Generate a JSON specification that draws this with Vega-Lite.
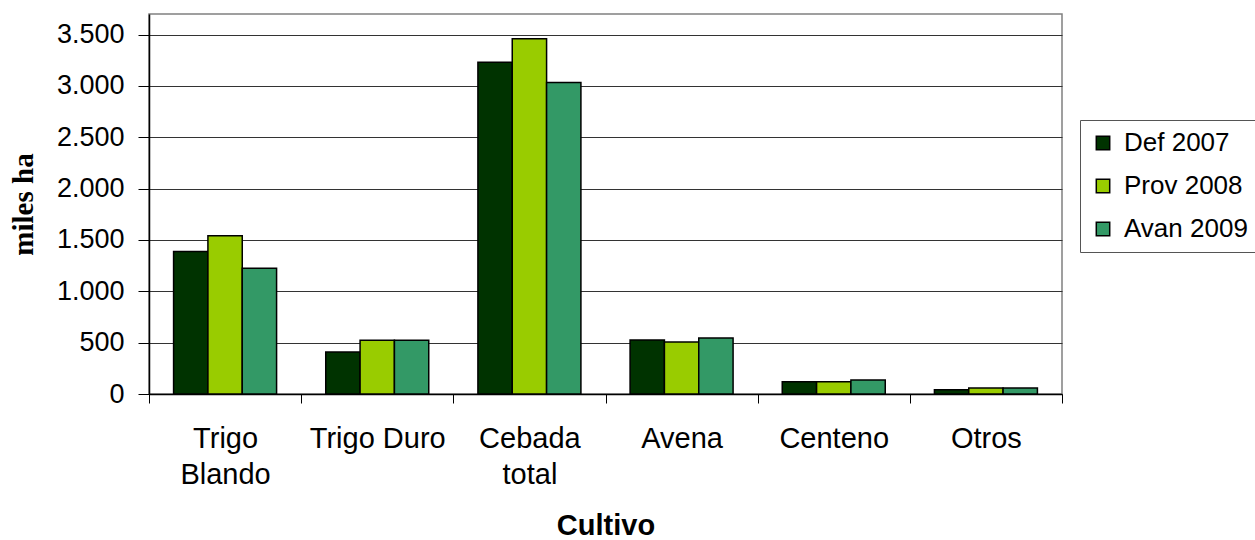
{
  "$schema": "https://vega.github.io/schema/vega-lite/v6.json",
  "autosize": "none",
  "width": 913,
  "height": 380,
  "padding": {"left": 149, "top": 14, "right": 193, "bottom": 146},
  "background": "white",
  "config": {
    "view": {"stroke": "#808080", "strokeWidth": 1.5},
    "font": "Liberation Sans"
  },
  "data": {
    "values": [
      {"cultivo": "Trigo Blando", "serie": "Def 2007", "valor": 1387},
      {"cultivo": "Trigo Blando", "serie": "Prov 2008", "valor": 1540},
      {"cultivo": "Trigo Blando", "serie": "Avan 2009", "valor": 1225},
      {"cultivo": "Trigo Duro", "serie": "Def 2007", "valor": 409},
      {"cultivo": "Trigo Duro", "serie": "Prov 2008", "valor": 523},
      {"cultivo": "Trigo Duro", "serie": "Avan 2009", "valor": 523},
      {"cultivo": "Cebada total", "serie": "Def 2007", "valor": 3229},
      {"cultivo": "Cebada total", "serie": "Prov 2008", "valor": 3460},
      {"cultivo": "Cebada total", "serie": "Avan 2009", "valor": 3034},
      {"cultivo": "Avena", "serie": "Def 2007", "valor": 526},
      {"cultivo": "Avena", "serie": "Prov 2008", "valor": 507},
      {"cultivo": "Avena", "serie": "Avan 2009", "valor": 546},
      {"cultivo": "Centeno", "serie": "Def 2007", "valor": 120},
      {"cultivo": "Centeno", "serie": "Prov 2008", "valor": 120},
      {"cultivo": "Centeno", "serie": "Avan 2009", "valor": 136},
      {"cultivo": "Otros", "serie": "Def 2007", "valor": 42},
      {"cultivo": "Otros", "serie": "Prov 2008", "valor": 58},
      {"cultivo": "Otros", "serie": "Avan 2009", "valor": 58}
    ]
  },
  "mark": {"type": "bar", "stroke": "black", "strokeWidth": 1.5},
  "encoding": {
    "x": {
      "field": "cultivo",
      "type": "nominal",
      "sort": ["Trigo Blando", "Trigo Duro", "Cebada total", "Avena", "Centeno", "Otros"],
      "scale": {"paddingInner": 0, "paddingOuter": 0},
      "axis": {
        "title": "Cultivo",
        "titleFont": "Liberation Sans",
        "titleFontSize": 29,
        "titleFontWeight": "bold",
        "titleColor": "black",
        "titlePadding": 22,
        "labelAngle": 0,
        "labelFont": "Liberation Sans",
        "labelFontSize": 29,
        "labelColor": "black",
        "labelPadding": 35,
        "labelLineHeight": 36,
        "labelExpr": "datum.label == 'Trigo Blando' ? ['Trigo', 'Blando'] : (datum.label == 'Cebada total' ? ['Cebada', 'total'] : datum.label)",
        "labelBaseline": "middle",
        "tickBand": "extent",
        "tickSize": 9,
        "tickColor": "black",
        "domainColor": "black",
        "domainWidth": 1.5
      }
    },
    "xOffset": {
      "field": "serie",
      "type": "nominal",
      "sort": ["Def 2007", "Prov 2008", "Avan 2009"],
      "scale": {"paddingInner": 0, "paddingOuter": 0.716}
    },
    "y": {
      "field": "valor",
      "type": "quantitative",
      "scale": {"domain": [0, 3700], "nice": false},
      "axis": {
        "title": "miles ha",
        "titleFont": "Liberation Serif",
        "titleFontSize": 29,
        "titleFontWeight": "bold",
        "titleColor": "black",
        "titlePadding": 18,
        "values": [0, 500, 1000, 1500, 2000, 2500, 3000, 3500],
        "labelExpr": "replace(format(datum.value, ','), ',', '.')",
        "labelFont": "Liberation Sans",
        "labelFontSize": 27,
        "labelColor": "black",
        "labelPadding": 14,
        "tickSize": 11,
        "tickColor": "black",
        "domainColor": "black",
        "domainWidth": 1.5,
        "grid": true,
        "gridColor": "#333333",
        "gridWidth": 1.2
      }
    },
    "fill": {
      "field": "serie",
      "type": "nominal",
      "sort": ["Def 2007", "Prov 2008", "Avan 2009"],
      "scale": {"domain": ["Def 2007", "Prov 2008", "Avan 2009"], "range": ["#003300", "#99CC00", "#339966"]},
      "legend": {
        "title": null,
        "orient": "none",
        "legendX": 931,
        "legendY": 106,
        "symbolType": "square",
        "symbolSize": 180,
        "symbolStrokeColor": "black",
        "symbolStrokeWidth": 1.5,
        "labelFont": "Liberation Sans",
        "labelFontSize": 26,
        "labelColor": "black",
        "labelOffset": 8,
        "rowPadding": 17,
        "padding": 10,
        "strokeColor": "#555555"
      }
    }
  }
}
